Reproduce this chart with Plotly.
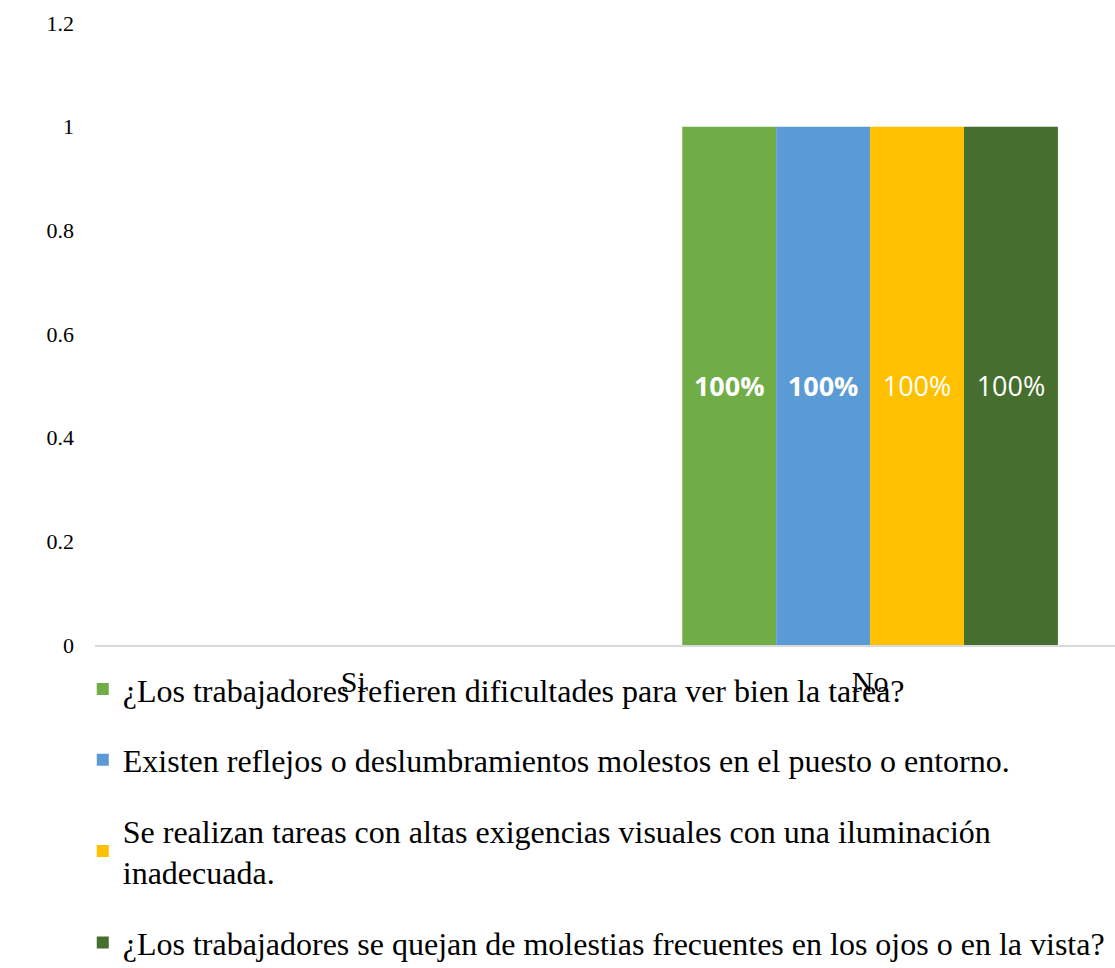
import plotly.graph_objects as go

# Survey answers (share of respondents) per question
categories = ["Si", "No"]
preguntas = [
    "¿Los trabajadores refieren dificultades para ver bien la tarea?",
    "Existen reflejos o deslumbramientos molestos en el puesto o entorno.",
    "Se realizan tareas con altas exigencias visuales con una iluminación<br>inadecuada.",
    "¿Los trabajadores se quejan de molestias frecuentes en los ojos o en la vista?",
]
valores = [
    [None, 1],
    [None, 1],
    [None, 1],
    [None, 1],
]
colores = ["#70AD47", "#5B9BD5", "#FFC000", "#466E2E"]
pesos = ["bold", "bold", "normal", "normal"]

serif = "Liberation Serif"

fig = go.Figure()
for i, (nombre, vals) in enumerate(zip(preguntas, valores)):
    fig.add_trace(go.Bar(
        x=categories,
        y=vals,
        name=nombre,
        legendgroup=f"g{i}",
        marker=dict(color=colores[i], line=dict(width=0)),
        texttemplate="%{y:.0%}",
        textposition="inside",
        insidetextanchor="middle",
        textangle=0,
        textfont=dict(family="Open Sans, sans-serif", size=27,
                      color="white", weight=pesos[i]),
    ))

fig.update_layout(
    width=1115,
    height=968,
    margin=dict(l=95, r=0, t=23, b=323, autoexpand=False),
    paper_bgcolor="white",
    plot_bgcolor="white",
    barmode="group",
    bargap=0.273,
    bargroupgap=0,
    showlegend=True,
    legend=dict(
        orientation="v",
        x=-0.012,
        xanchor="left",
        y=-0.027,
        yanchor="top",
        font=dict(family=serif, size=32, color="black"),
        tracegroupgap=26,
        bgcolor="rgba(0,0,0,0)",
        traceorder="grouped",
    ),
    xaxis=dict(
        range=[-0.5, 1.474],
        showgrid=False,
        showline=True,
        linecolor="#D9D9D9",
        linewidth=2,
        ticks="",
        tickfont=dict(family=serif, size=30, color="black"),
        ticklabelstandoff=9,
        zeroline=False,
    ),
    yaxis=dict(
        range=[0, 1.2],
        tickvals=[0, 0.2, 0.4, 0.6, 0.8, 1, 1.2],
        showgrid=False,
        showline=False,
        zeroline=False,
        ticks="",
        tickfont=dict(family=serif, size=22, color="black"),
        ticklabelstandoff=20,
    ),
)

fig.write_html("out.html")
